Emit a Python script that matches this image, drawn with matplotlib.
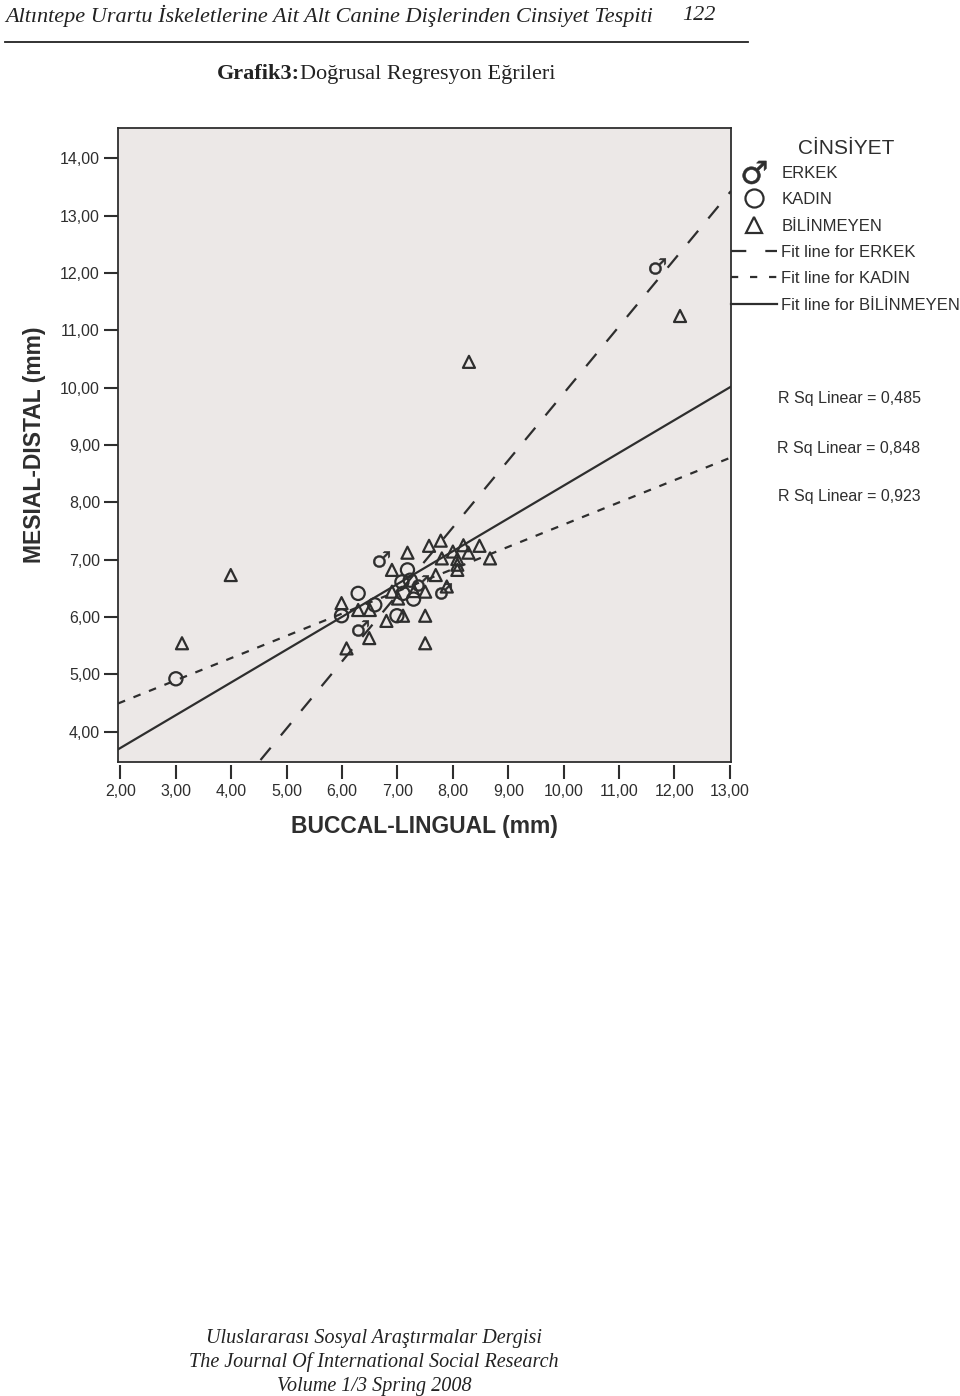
import matplotlib
matplotlib.use("Agg")
import matplotlib.pyplot as plt
from matplotlib.lines import Line2D
import numpy as np

# data
erkek_x = [11.68, 6.70, 7.41, 7.82, 6.32]
erkek_y = [12.13, 7.01, 6.59, 6.45, 5.81]

kadin_x = [3.00, 7.18, 7.08, 7.23, 6.29, 7.10, 7.29, 5.99, 6.99, 6.59]
kadin_y = [4.92, 6.82, 6.61, 6.64, 6.41, 6.41, 6.31, 6.02, 6.02, 6.21]

bilinmeyen_x = [7.78, 7.57, 7.18, 8.19, 8.48, 8.00, 8.28, 8.67, 7.80, 8.08,
                8.08, 8.08, 6.90, 7.69, 7.89, 7.50, 6.90, 7.01, 5.99, 6.29,
                6.50, 7.10, 7.50, 6.80, 6.49, 7.50, 6.08, 3.99, 3.11, 8.29,
                12.10, 7.30]
bilinmeyen_y = [7.33, 7.24, 7.12, 7.25, 7.24, 7.14, 7.12, 7.02, 7.02, 7.01,
                6.91, 6.82, 6.82, 6.73, 6.53, 6.44, 6.44, 6.32, 6.24, 6.12,
                6.12, 6.02, 6.02, 5.93, 5.63, 5.54, 5.45, 6.73, 5.54, 10.45,
                11.25, 6.45]

# fit lines (intercept, slope)
fit_erkek = (-1.79, 1.169)
fit_kadin = (3.73, 0.388)
fit_bilinmeyen = (2.57, 0.572)
r_squared = [0.485, 0.848, 0.923]

x_ticks = np.arange(2, 14)
y_ticks = np.arange(4, 15)

ink = "#2e2e2e"
plt.rcParams["font.family"] = ["Liberation Sans", "DejaVu Sans"]
plt.rcParams["lines.scale_dashes"] = False

W, H = 960, 1396
fig = plt.figure(figsize=(W / 100, H / 100), dpi=100)

# axes box: left 118, right 731, top 128, bottom 762 (pixels)
ax = fig.add_axes([118 / W, 1 - 762 / H, 613 / W, 634 / H])
ax.set_facecolor("#ECE8E7")
ax.set_xlim(1.955, 13.02)
ax.set_ylim(3.468, 14.53)

for s in ["top", "left", "right"]:
    ax.spines[s].set_color(ink)
    ax.spines[s].set_linewidth(1.3)
ax.spines["bottom"].set_position(("outward", 2))
ax.spines["bottom"].set_visible(False)
ax.plot([0, 1], [0, 0], transform=ax.transAxes, color=ink, lw=1.3, clip_on=False)

ax.set_xticks(x_ticks)
ax.set_yticks(y_ticks)
ax.set_xticklabels([f"{v:.2f}".replace(".", ",") for v in x_ticks])
ax.set_yticklabels([f"{v:.2f}".replace(".", ",") for v in y_ticks])
ax.tick_params(axis="both", direction="out", length=10, width=1.5, color=ink,
               labelsize=11.5, labelcolor=ink)
ax.tick_params(axis="x", pad=4)
ax.tick_params(axis="y", pad=3)

ax.set_xlabel("BUCCAL-LINGUAL (mm)", fontsize=16.5, fontweight="bold", color=ink, labelpad=11)
ax.set_ylabel("MESIAL-DISTAL (mm)", fontsize=16.5, fontweight="bold", color=ink, labelpad=10)

# fit lines
xs = np.array(ax.get_xlim())
ax.plot(xs, fit_erkek[0] + fit_erkek[1] * xs, color=ink, lw=1.6, dashes=(11.5, 11.5))
ax.plot(xs, fit_kadin[0] + fit_kadin[1] * xs, color=ink, lw=1.6, dashes=(5.5, 6.5))
ax.plot(xs, fit_bilinmeyen[0] + fit_bilinmeyen[1] * xs, color=ink, lw=1.6)

# points
ax.scatter(bilinmeyen_x, bilinmeyen_y, marker="^", s=75, facecolors="none",
           edgecolors=ink, linewidths=1.6, zorder=3)
ax.scatter(kadin_x, kadin_y, marker="o", s=90, facecolors="none",
           edgecolors=ink, linewidths=1.6, zorder=3)
ax.plot(erkek_x, erkek_y, linestyle="none", marker="$\u2642$", ms=12,
        color=ink, mew=0.3, zorder=4)

# legend (title drawn separately)
handles = [
    Line2D([], [], linestyle="none", marker="$\u2642$", ms=17, color=ink, mew=0.4),
    Line2D([], [], linestyle="none", marker="o", ms=13, mfc="none", mec=ink, mew=1.6),
    Line2D([], [], linestyle="none", marker="^", ms=12, mfc="none", mec=ink, mew=1.6),
    Line2D([], [], color=ink, lw=1.6, dashes=(11, 13.7)),
    Line2D([], [], color=ink, lw=1.6, dashes=(5.2, 8.5)),
    Line2D([], [], color=ink, lw=1.6),
]
labels = ["ERKEK", "KADIN", "BİLİNMEYEN", "Fit line for ERKEK",
          "Fit line for KADIN", "Fit line for BİLİNMEYEN"]
leg = fig.legend(handles, labels, loc="upper left", bbox_to_anchor=(731 / W, 1 - 166 / H),
                 frameon=False, fontsize=12,
                 handlelength=2.76, handletextpad=0.25, labelspacing=0.68,
                 borderpad=0, borderaxespad=0)
for t in leg.get_texts():
    t.set_color(ink)
fig.text(846 / W, 1 - 148 / H, "CİNSİYET", ha="center", va="center",
         fontsize=15, color=ink)

for val, ypx in zip(r_squared, [398, 448, 497]):
    fig.text(849 / W, 1 - ypx / H, "R Sq Linear = " + f"{val:.3f}".replace(".", ","),
             ha="center", va="center", fontsize=11.5, color=ink)

# page header / footer
serif = ["Liberation Serif", "DejaVu Serif"]
fig.text(5 / W, 1 - 16 / H,
         "Altıntepe Urartu İskeletlerine Ait Alt Canine Dişlerinden Cinsiyet Tespiti",
         ha="left", va="center", fontsize=16, style="italic", family=serif, color="#222222")
fig.text(716 / W, 1 - 16 / H, "122", ha="right", va="center", fontsize=16,
         style="italic", family=serif, color="#222222")
fig.add_artist(Line2D([5 / W, 748 / W], [1 - 42 / H, 1 - 42 / H],
                      transform=fig.transFigure, color="#222222", lw=1.3))
fig.text(300 / W, 1 - 74 / H, "Grafik3:", ha="right", va="center", fontsize=16,
         fontweight="bold", family=serif, color="#222222")
fig.text(300 / W, 1 - 74 / H, "Doğrusal Regresyon Eğrileri", ha="left", va="center",
         fontsize=16, family=serif, color="#222222")

footer = ["Uluslararası Sosyal Araştırmalar Dergisi",
          "The Journal Of International Social Research",
          "Volume 1/3 Spring 2008"]
for line, ypx in zip(footer, [1338, 1362, 1386]):
    fig.text(374 / W, 1 - ypx / H, line, ha="center", va="center", fontsize=14.5,
             style="italic", family=serif, color="#222222")

fig.savefig("out.png", dpi=100, facecolor="white")
